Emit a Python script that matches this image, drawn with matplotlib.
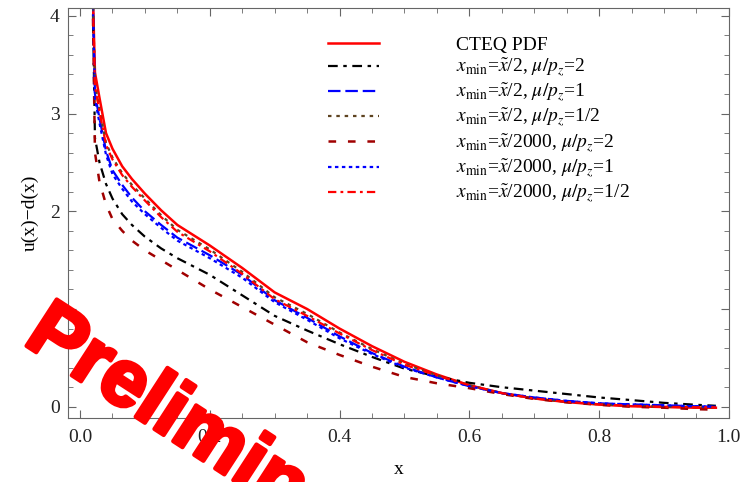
import matplotlib
matplotlib.use("Agg")
import matplotlib.pyplot as plt
import matplotlib.patheffects as pe
from matplotlib.ticker import MultipleLocator

plt.rcParams['font.family'] = ['Liberation Serif', 'DejaVu Serif']
plt.rcParams['mathtext.fontset'] = 'stix'
plt.rcParams['lines.scale_dashes'] = False

# values
x = [0.019, 0.023, 0.03, 0.04, 0.05, 0.065, 0.08, 0.1, 0.125, 0.15, 0.2, 0.25, 0.3,
     0.35, 0.4, 0.45, 0.5, 0.55, 0.6, 0.65, 0.7, 0.75, 0.8, 0.85, 0.9, 0.95, 0.98]

cteq = [4.4, 3.42, 3.16, 2.8, 2.64, 2.46, 2.33, 2.18, 2.01, 1.86, 1.65, 1.42, 1.17,
        1.0, 0.8, 0.62, 0.46, 0.33, 0.22, 0.14, 0.085, 0.048, 0.022, 0.005, -0.003, -0.01, -0.01]
half_mu2 = [4.4, 2.75, 2.5, 2.28, 2.13, 1.97, 1.86, 1.74, 1.62, 1.52, 1.35, 1.14, 0.93,
            0.78, 0.64, 0.51, 0.39, 0.31, 0.245, 0.2, 0.165, 0.13, 0.095, 0.068, 0.04, 0.02, 0.01]
half_mu1 = [4.4, 3.2, 2.95, 2.62, 2.42, 2.27, 2.14, 2.0, 1.86, 1.73, 1.55, 1.35, 1.09,
            0.91, 0.72, 0.55, 0.41, 0.3, 0.21, 0.14, 0.095, 0.06, 0.035, 0.024, 0.015, 0.005, 0.0]
half_mu05 = [4.4, 3.3, 3.04, 2.7, 2.55, 2.39, 2.27, 2.13, 1.96, 1.81, 1.61, 1.38, 1.12,
             0.95, 0.76, 0.59, 0.44, 0.32, 0.22, 0.14, 0.085, 0.05, 0.025, 0.01, 0.0, -0.005, -0.005]
k2000_mu2 = [4.4, 2.6, 2.3, 2.07, 1.92, 1.8, 1.7, 1.6, 1.5, 1.4, 1.2, 1.02, 0.84,
             0.66, 0.53, 0.41, 0.305, 0.24, 0.19, 0.13, 0.08, 0.045, 0.02, 0.0, -0.01, -0.025, -0.03]
k2000_mu1 = [4.4, 3.15, 2.9, 2.58, 2.38, 2.23, 2.1, 1.97, 1.83, 1.7, 1.52, 1.32, 1.07,
             0.89, 0.7, 0.54, 0.4, 0.3, 0.21, 0.14, 0.095, 0.06, 0.035, 0.024, 0.015, 0.005, 0.0]
k2000_mu05 = [4.4, 3.28, 3.02, 2.68, 2.53, 2.37, 2.25, 2.11, 1.94, 1.79, 1.59, 1.36, 1.1,
              0.93, 0.75, 0.58, 0.43, 0.32, 0.22, 0.14, 0.085, 0.05, 0.025, 0.01, 0.0, -0.005, -0.005]

labels = ['CTEQ PDF',
          r'$x_{\rm min}$=$\tilde{x}$/2, $\mu/p_z$=2',
          r'$x_{\rm min}$=$\tilde{x}$/2, $\mu/p_z$=1',
          r'$x_{\rm min}$=$\tilde{x}$/2, $\mu/p_z$=1/2',
          r'$x_{\rm min}$=$\tilde{x}$/2000, $\mu/p_z$=2',
          r'$x_{\rm min}$=$\tilde{x}$/2000, $\mu/p_z$=1',
          r'$x_{\rm min}$=$\tilde{x}$/2000, $\mu/p_z$=1/2']

fig = plt.figure(figsize=(7.46, 4.82), dpi=100)
ax = fig.add_axes([0.0912, 0.1328, 0.8858, 0.8506])

ax.plot(x, cteq, color='#ff0000', lw=1.8, label=labels[0])
ax.plot(x, half_mu2, color='black', lw=1.6, dashes=(7, 4, 2.5, 4), label=labels[1])
ax.plot(x, half_mu1, color='#0000ff', lw=1.6, dashes=(9, 3.5), label=labels[2])
ax.plot(x, half_mu05, color='#5e4320', lw=1.6, dashes=(2.5, 3.5), label=labels[3])
ax.plot(x, k2000_mu2, color='#a00000', lw=1.8, dashes=(5.5, 8.5), label=labels[4])
ax.plot(x, k2000_mu1, color='#0000ff', lw=1.6, dashes=(2.5, 2.5), label=labels[5])
ax.plot(x, k2000_mu05, color='#ff0000', lw=1.6, dashes=(6, 3, 2, 3), label=labels[6])

ax.set_xlim(-0.0185, 1.0)
ax.set_ylim(-0.115, 4.08)
ax.xaxis.set_major_locator(MultipleLocator(0.2))
ax.xaxis.set_minor_locator(MultipleLocator(0.05))
ax.yaxis.set_major_locator(MultipleLocator(1))
ax.yaxis.set_minor_locator(MultipleLocator(0.2))
ax.set_xticks([0.0, 0.2, 0.4, 0.6, 0.8, 1.0])
ax.set_xticklabels(['0.0', '0.2', '0.4', '0.6', '0.8', '1.0'])

for s in ax.spines.values():
    s.set_color('#666666')
ax.tick_params(which='both', direction='in', top=True, right=True, color='#666666',
               labelsize=14, labelcolor='#222222')
ax.tick_params(which='major', length=6)
ax.tick_params(which='minor', length=3.4)
ax.tick_params(axis='x', pad=8)
ax.tick_params(axis='y', pad=6)

ax.set_xlabel('x', fontsize=14, labelpad=11)
ax.set_ylabel('u(x)\u2212d(x)', fontsize=14, labelpad=8)

ax.legend(loc='upper left', bbox_to_anchor=(0.3794, 0.955), frameon=False, fontsize=14,
          handlelength=2.6, handletextpad=3.96, labelspacing=0.16, borderpad=0)

# watermark
fig.text(22 / 746, 1 - 343 / 482, 'Preliminary', rotation=-33, rotation_mode='anchor',
         ha='left', va='baseline', fontsize=58, fontweight='bold', color='#ff0000',
         family='Liberation Sans', zorder=10,
         path_effects=[pe.withStroke(linewidth=3, foreground='#ff0000', capstyle='round',
                                     joinstyle='round')])

fig.savefig('out.png', dpi=100)
